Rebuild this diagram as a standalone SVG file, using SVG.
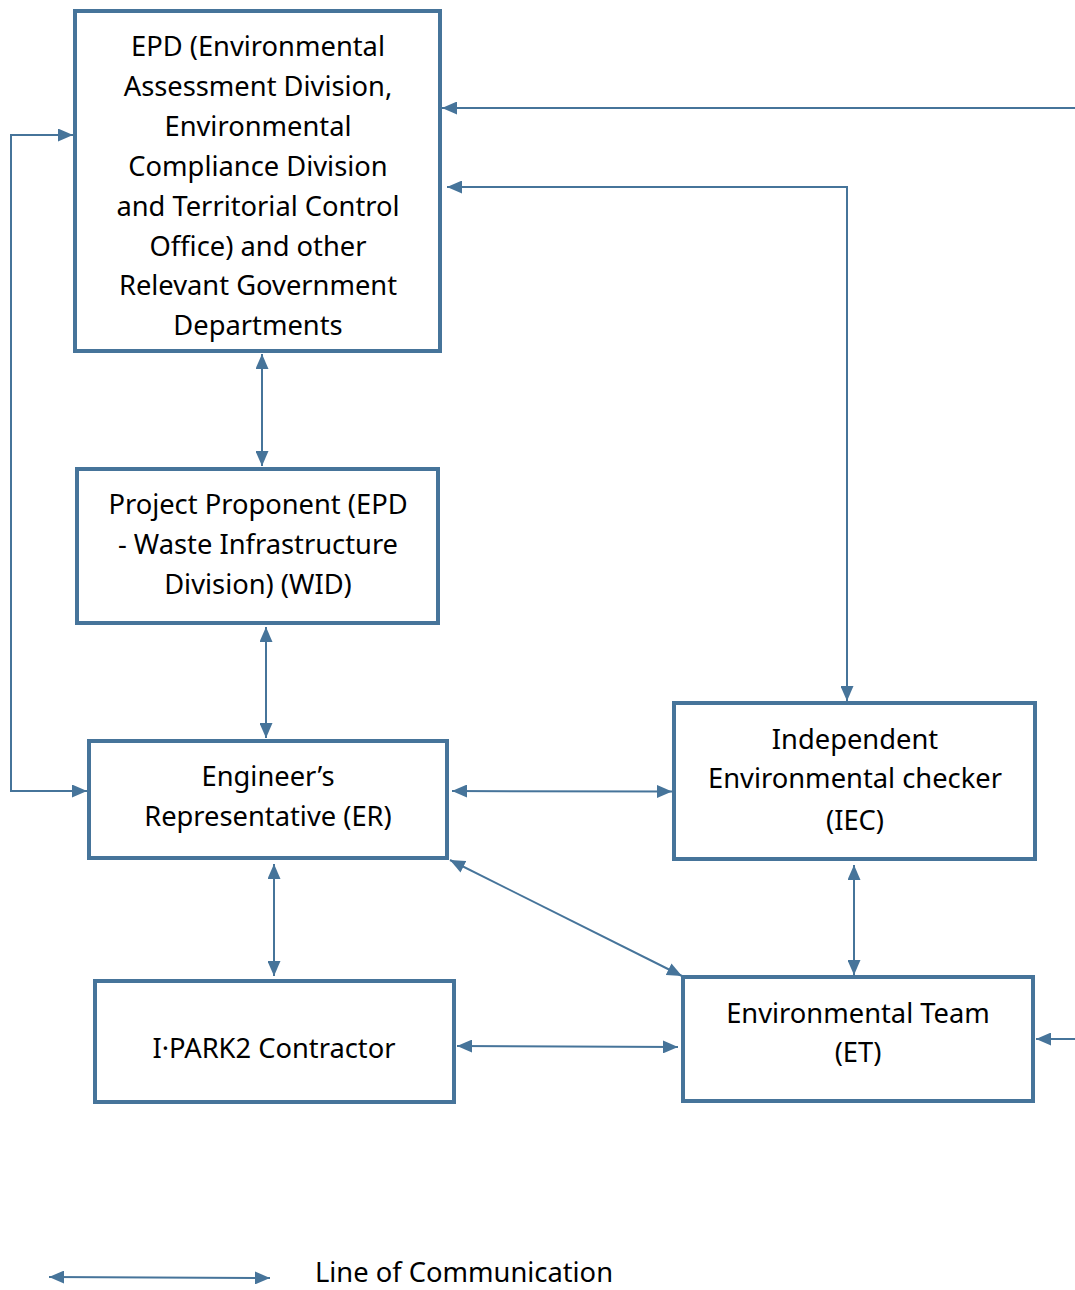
<svg xmlns="http://www.w3.org/2000/svg" width="1075" height="1290" viewBox="0 0 1075 1290">
<defs>
<marker id="ah" viewBox="0 0 15 13" refX="15" refY="6.5" markerWidth="15" markerHeight="13" markerUnits="userSpaceOnUse" orient="auto-start-reverse">
<path d="M0,0 L15,6.5 L0,13 Z" fill="#46749A"/>
</marker>
<style>
.box{fill:#fff;stroke:#46749A;stroke-width:4}
.t{font-family:"Noto Sans","Open Sans","DejaVu Sans",sans-serif;font-size:27.3px;fill:#000;text-anchor:middle}
.c{fill:none;stroke:#46749A;stroke-width:2}
.a{marker-end:url(#ah)}
.b{marker-start:url(#ah);marker-end:url(#ah)}
</style>
</defs>
<rect width="1075" height="1290" fill="#fff"/>
<g id="connectors">
<path class="c a" d="M1075,108 L442,108"/>
<path class="c b" d="M447,187 L847,187 L847,701"/>
<path class="c b" d="M73,135 L11,135 L11,791 L87,791"/>
<path class="c b" d="M262,354 L262,466"/>
<path class="c b" d="M266,627 L266,738"/>
<path class="c b" d="M452,791 L672,791.5"/>
<path class="c b" d="M274,864 L274,976"/>
<path class="c b" d="M854,865 L854,975"/>
<path class="c b" d="M450,860 L682,976"/>
<path class="c b" d="M457,1046 L678,1047"/>
<path class="c a" d="M1075,1039 L1036,1039"/>
<path class="c b" d="M49,1277 L270,1278"/>
</g>
<g id="epd">
<rect class="box" x="75" y="11" width="365" height="340"/>
<text class="t" x="258" y="56">EPD (Environmental</text>
<text class="t" x="258" y="96">Assessment Division,</text>
<text class="t" x="258" y="136">Environmental</text>
<text class="t" x="258" y="176">Compliance Division</text>
<text class="t" x="258" y="216">and Territorial Control</text>
<text class="t" x="258" y="256">Office) and other</text>
<text class="t" x="258" y="295">Relevant Government</text>
<text class="t" x="258" y="335">Departments</text>
</g>
<g id="pp">
<rect class="box" x="77" y="469" width="361" height="154"/>
<text class="t" x="258" y="514">Project Proponent (EPD</text>
<text class="t" x="258" y="554">- Waste Infrastructure</text>
<text class="t" x="258" y="594">Division) (WID)</text>
</g>
<g id="er">
<rect class="box" x="89" y="741" width="358" height="117"/>
<text class="t" x="268" y="786">Engineer’s</text>
<text class="t" x="268" y="826">Representative (ER)</text>
</g>
<g id="iec">
<rect class="box" x="674" y="703" width="361" height="156"/>
<text class="t" x="855" y="749">Independent</text>
<text class="t" x="855" y="788">Environmental checker</text>
<text class="t" x="855" y="830">(IEC)</text>
</g>
<g id="contractor">
<rect class="box" x="95" y="981" width="359" height="121"/>
<text class="t" x="274" y="1058">I·PARK2 Contractor</text>
</g>
<g id="et">
<rect class="box" x="683" y="977" width="350" height="124"/>
<text class="t" x="858" y="1023">Environmental Team</text>
<text class="t" x="858" y="1062">(ET)</text>
</g>
<g id="legend">
<text class="t" x="315" y="1282" style="text-anchor:start">Line of Communication</text>
</g>
</svg>
